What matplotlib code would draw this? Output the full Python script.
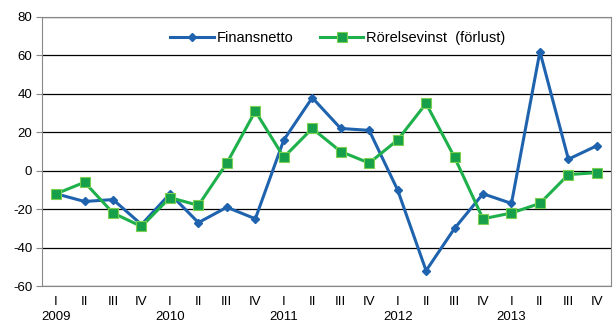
import matplotlib
matplotlib.use('Agg')
import matplotlib.pyplot as plt

quarters = ['I', 'II', 'III', 'IV'] * 5
years = ['2009', '2010', '2011', '2012', '2013']
finansnetto = [-12, -16, -15, -28, -12, -27, -19, -25, 16, 38,
               22, 21, -10, -52, -30, -12, -17, 62, 6, 13]
rorelsevinst = [-12, -6, -22, -29, -14, -18, 4, 31, 7, 22,
                10, 4, 16, 35, 7, -25, -22, -17, -2, -1]

plt.rcParams['font.family'] = ['Liberation Sans', 'DejaVu Sans']
plt.rcParams['axes.unicode_minus'] = False

fig = plt.figure(figsize=(6.16, 3.33), dpi=100)
ax = fig.add_axes([0.068, 0.141, 0.924, 0.808])

x = range(len(quarters))
ax.plot(x, finansnetto, color='#1F63AE', lw=2.2, marker='D', ms=4.5,
        mfc='#1F63AE', mec='#1F63AE', label='Finansnetto', zorder=3)
ax.plot(x, rorelsevinst, color='#1DB04B', lw=2.2, marker='s', ms=6.5,
        mfc='#16A04A', mec='#7BD04F', mew=0.8, label='Rörelsevinst  (förlust)', zorder=3)

ax.set_xlim(-0.5, len(quarters) - 0.5)
ax.set_ylim(-60, 80)
ax.set_yticks(range(-60, 81, 20))
ax.yaxis.grid(True, color='black', lw=0.9)
ax.set_axisbelow(True)
ax.set_xticks(list(x))
ax.set_xticklabels(quarters)
ax.tick_params(axis='x', length=0, pad=7.5, labelsize=9.5)
ax.tick_params(axis='y', length=4, color='#888888', labelsize=9.5, pad=3)
for s in ax.spines.values():
    s.set_color('#888888')

for i, yr in enumerate(years):
    ax.text(i * 4, -0.115, yr, transform=ax.get_xaxis_transform(),
            ha='center', va='center', fontsize=9.5)

ax.legend(loc='upper center', bbox_to_anchor=(0.52, 0.995), ncol=2, frameon=False,
          fontsize=10.5, handlelength=3, columnspacing=1.8, handletextpad=0.2)

fig.savefig('out.png', dpi=100)
